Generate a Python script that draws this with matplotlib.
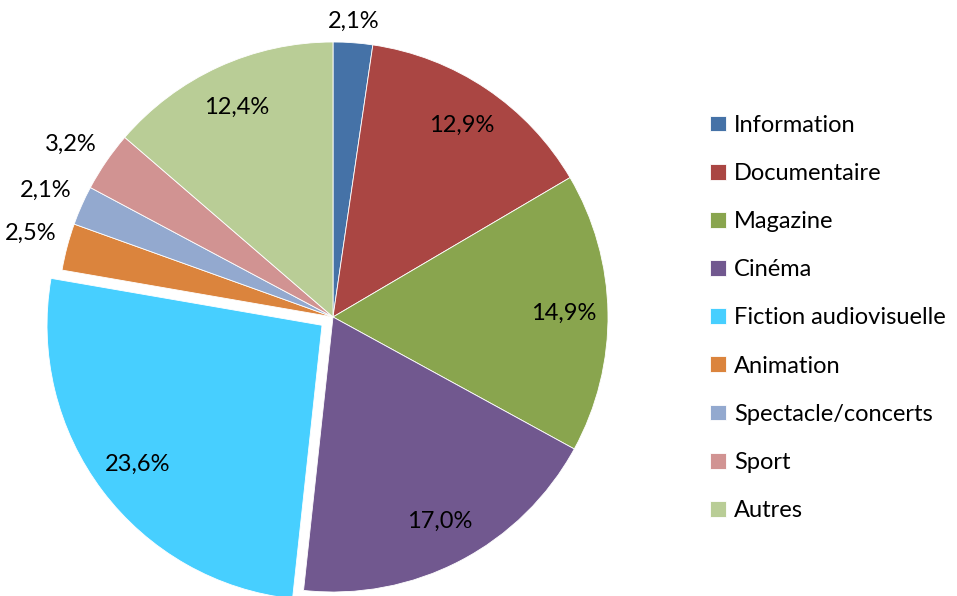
import numpy as np
import matplotlib.pyplot as plt

# Data
categories = ['Information', 'Documentaire', 'Magazine', 'Cinéma', 'Fiction audiovisuelle',
              'Animation', 'Spectacle/concerts', 'Sport', 'Autres']
values = [2.1, 12.9, 14.9, 17.0, 23.6, 2.5, 2.1, 3.2, 12.4]
labels = ['2,1%', '12,9%', '14,9%', '17,0%', '23,6%', '2,5%', '2,1%', '3,2%', '12,4%']
colors = ['#4572A7', '#AA4643', '#89A54E', '#71588F', '#47CFFF',
          '#DB843D', '#93A9CF', '#D19392', '#B9CD96']
explode = [0, 0, 0, 0, 0.05, 0, 0, 0, 0]

plt.rcParams['font.family'] = ['Lato', 'DejaVu Sans']
fs = 17

W, H = 957, 596
fig = plt.figure(figsize=(W / 100, H / 100), dpi=100)
cx, cy, R = 333, 317, 275
half = 300
ax = fig.add_axes([(cx - half) / W, (H - cy - half) / H, 2 * half / W, 2 * half / H])

wedges, _ = ax.pie(values, colors=colors, startangle=90, counterclock=False,
                   explode=explode, radius=1,
                   wedgeprops=dict(edgecolor='white', linewidth=0.6))
for w in wedges:
    w.set_clip_on(False)
ax.set_xlim(-half / R, half / R)
ax.set_ylim(-half / R, half / R)
ax.axis('off')

total = sum(values)
for w, lab, v, ex in zip(wedges, labels, values, explode):
    ang = np.deg2rad((w.theta1 + w.theta2) / 2)
    c, s = np.cos(ang), np.sin(ang)
    if v / total * 100 < 5:
        r = 1.04
        if abs(s) > 0.9:
            ha, va = 'center', ('bottom' if s > 0 else 'top')
        else:
            ha, va = ('left' if c > 0 else 'right'), 'bottom'
    else:
        r = 0.84 + ex
        ha, va = 'center', 'center'
    ax.text(r * c, r * s, lab, ha=ha, va=va, fontsize=fs, color='black')

fig.legend(wedges, categories, loc='center left', bbox_to_anchor=(689 / W, 1 - 318 / H),
           frameon=False, fontsize=fs, handlelength=0.65, handleheight=0.65,
           handletextpad=0.35, labelspacing=1.15)

fig.savefig('out.png', dpi=100)
